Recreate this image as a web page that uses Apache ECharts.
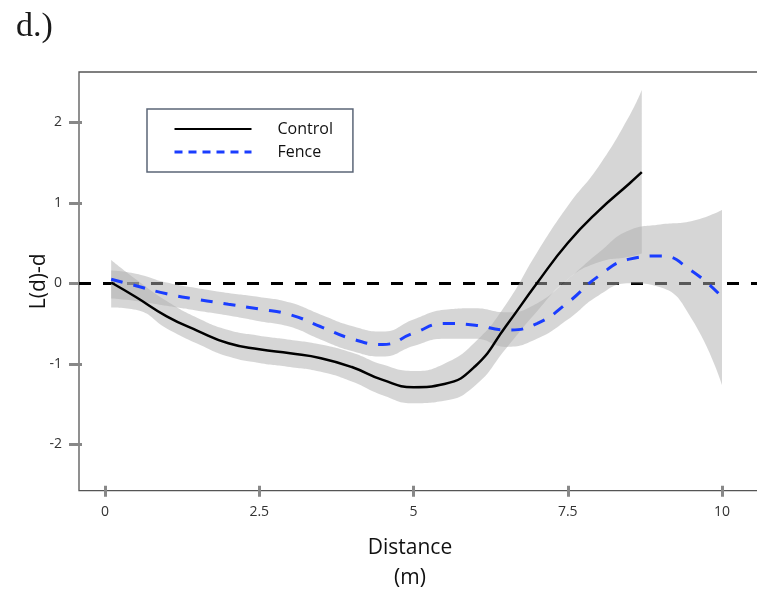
<!DOCTYPE html>
<html>
<head>
<meta charset="utf-8">
<script src="https://cdn.jsdelivr.net/npm/echarts@6/dist/echarts.min.js"></script>
<style>
html,body{margin:0;padding:0;background:#fff;}
#chart{width:757px;height:594px;}
</style>
</head>
<body>
<div id="chart"></div>
<script>
// ---- data ----
const panelLabel = 'd.)';
const xTicks = [0, 2.5, 5, 7.5, 10];
const yTicks = [-2, -1, 0, 1, 2];
const referenceY = 0;

const controlX = [0.1,0.5,1,1.5,2,2.5,3,3.5,4,4.5,5,5.5,6,6.5,7,7.5,8,8.5,8.7];
const control = [0.01,-0.17,-0.41,-0.59,-0.745,-0.82,-0.87,-0.93,-1.04,-1.20,-1.29,-1.25,-1.03,-0.53,0.0,0.50,0.90,1.24,1.38];
const controlUpper = [0.29,0.05,-0.22,-0.43,-0.58,-0.65,-0.70,-0.76,-0.86,-1.01,-1.09,-1.00,-0.73,-0.26,0.38,0.96,1.45,2.08,2.40];
const controlLower = [-0.30,-0.33,-0.56,-0.75,-0.91,-0.99,-1.04,-1.10,-1.22,-1.39,-1.49,-1.46,-1.27,-0.81,-0.35,0.05,0.26,0.33,0.37];

const fenceX = [0.1,0.5,1,1.5,2,2.5,3,3.5,4,4.5,5,5.5,6,6.5,7,7.5,8,8.5,9,9.5,10];
const fence = [0.05,-0.03,-0.13,-0.20,-0.26,-0.32,-0.39,-0.54,-0.69,-0.76,-0.62,-0.50,-0.52,-0.58,-0.50,-0.24,0.09,0.30,0.34,0.16,-0.17];
const fenceUpper = [0.16,0.12,0.01,-0.06,-0.12,-0.17,-0.24,-0.39,-0.53,-0.60,-0.45,-0.33,-0.31,-0.36,-0.25,0.05,0.38,0.66,0.73,0.77,0.91];
const fenceLower = [-0.19,-0.22,-0.28,-0.34,-0.40,-0.47,-0.54,-0.70,-0.84,-0.91,-0.78,-0.69,-0.69,-0.79,-0.69,-0.45,-0.15,0.00,-0.05,-0.43,-1.26];

// ---- build ----
const pairs = (xs, ys) => xs.map((x, i) => [x, ys[i]]);
// band rows are stored as [y, x] so that stacking happens on the y dimension
const bandLo = (xs, lo) => xs.map((x, i) => [lo[i], x]);
const bandDiff = (xs, hi, lo) => xs.map((x, i) => [+(hi[i] - lo[i]).toFixed(4), x]);

const bandColor = 'rgba(175,175,175,0.51)';
const font = '"Open Sans", "Noto Sans", sans-serif';

function bandSeries(name, xs, hi, lo) {
  return [
    {
      type: 'line', name: name + ' lo', data: bandLo(xs, lo), encode: { x: 1, y: 0 },
      stack: name, stackStrategy: 'all', smooth: true, symbol: 'none', silent: true,
      lineStyle: { opacity: 0 }, z: 10
    },
    {
      type: 'line', name: name + ' band', data: bandDiff(xs, hi, lo), encode: { x: 1, y: 0 },
      stack: name, stackStrategy: 'all', smooth: true, symbol: 'none', silent: true,
      lineStyle: { opacity: 0 }, areaStyle: { color: bandColor, opacity: 1 }, z: 10
    }
  ];
}

const chart = echarts.init(document.getElementById('chart'), null, { renderer: 'canvas' });

const gridLeft = 79, gridTop = 72, gridW = 680, gridH = 418.7;
const xPx0 = 105, xPxPerUnit = 61.7;
const yPx0 = 283.3, yPxPerUnit = 80.5;
const xMin = (gridLeft - xPx0) / xPxPerUnit;
const xMax = (gridLeft + gridW - xPx0) / xPxPerUnit;
const yMax = (yPx0 - gridTop) / yPxPerUnit;
const yMin = (yPx0 - (gridTop + gridH)) / yPxPerUnit;

const option = {
  animation: false,
  backgroundColor: '#fff',
  title: {
    text: panelLabel, left: 11, top: 5,
    textStyle: { fontFamily: '"Liberation Serif", serif', fontSize: 34, fontWeight: 'normal', color: '#1a1a1a' }
  },
  grid: {
    left: gridLeft, top: gridTop, width: gridW, height: gridH,
    outerBoundsMode: 'none', containLabel: false,
    show: true, borderColor: '#555', borderWidth: 1.3, backgroundColor: 'transparent'
  },
  legend: {
    data: [
      { name: 'Control' },
      { name: 'Fence', lineStyle: { type: [8, 6], width: 3 } }
    ],
    itemStyle: { color: 'rgba(0,0,0,0)', borderWidth: 0, opacity: 0 },
    orient: 'vertical', left: 147, top: 109,
    padding: [12, 20, 12, 26],
    itemWidth: 77, itemHeight: 14, itemGap: 7,
    borderColor: '#5b6577', borderWidth: 1.5,
    textStyle: { fontFamily: font, fontSize: 16, color: '#111', padding: [0, 0, 0, 21] },
    selectedMode: false
  },
  xAxis: [
    {
      type: 'value', min: xMin, max: xMax,
      name: 'Distance\n(m)', nameLocation: 'middle', nameGap: 42, nameMoveOverlap: false,
      nameTextStyle: { fontFamily: font, fontSize: 21, color: '#111', lineHeight: 30, padding: [0, 18, 0, 0] },
      axisLine: { show: false, onZero: false },
      axisTick: { show: true, customValues: xTicks, length: 6, lineStyle: { color: '#888', width: 3 } },
      axisLabel: { customValues: xTicks, margin: 14, fontFamily: font, fontSize: 14, color: '#333' },
      splitLine: { show: false }
    },
    {
      type: 'value', min: xMin, max: xMax, position: 'bottom',
      axisLine: { show: false, onZero: false },
      axisTick: { show: true, inside: true, customValues: xTicks, length: 5, lineStyle: { color: '#888', width: 3 } },
      axisLabel: { show: false },
      splitLine: { show: false }
    }
  ],
  yAxis: [
    {
      type: 'value', min: yMin, max: yMax,
      name: 'L(d)-d', nameLocation: 'middle', nameGap: 29, nameMoveOverlap: false,
      nameTextStyle: { fontFamily: font, fontSize: 21, color: '#111' },
      axisLine: { show: false, onZero: false },
      axisTick: { show: true, customValues: yTicks, length: 10, lineStyle: { color: '#888', width: 3 } },
      axisLabel: { customValues: yTicks, margin: 17, fontFamily: font, fontSize: 14, color: '#333' },
      splitLine: { show: false }
    },
    {
      type: 'value', min: yMin, max: yMax, position: 'left',
      axisLine: { show: false, onZero: false },
      axisTick: { show: true, inside: true, customValues: yTicks, length: 3, lineStyle: { color: '#888', width: 3 } },
      axisLabel: { show: false },
      splitLine: { show: false }
    }
  ],
  series: [
    {
      type: 'line', name: 'reference', data: [], symbol: 'none', silent: true, z: 1,
      markLine: {
        silent: true, symbol: 'none', z: 1, label: { show: false },
        lineStyle: { color: '#000', width: 3, type: [12, 12] },
        data: [{ yAxis: referenceY }]
      }
    },
    ...bandSeries('cband', controlX, controlUpper, controlLower),
    ...bandSeries('fband', fenceX, fenceUpper, fenceLower),
    {
      type: 'line', name: 'Control', data: pairs(controlX, control), smooth: true,
      symbol: 'none', z: 11, lineStyle: { color: '#000', width: 2.5 }, itemStyle: { color: '#000' }
    },
    {
      type: 'line', name: 'Fence', data: pairs(fenceX, fence), smooth: true,
      symbol: 'none', z: 11, lineStyle: { color: '#1a3dff', width: 3, type: [12, 11] }, itemStyle: { color: '#1a3dff' }
    }
  ]
};
chart.setOption(option);
</script>
</body>
</html>
